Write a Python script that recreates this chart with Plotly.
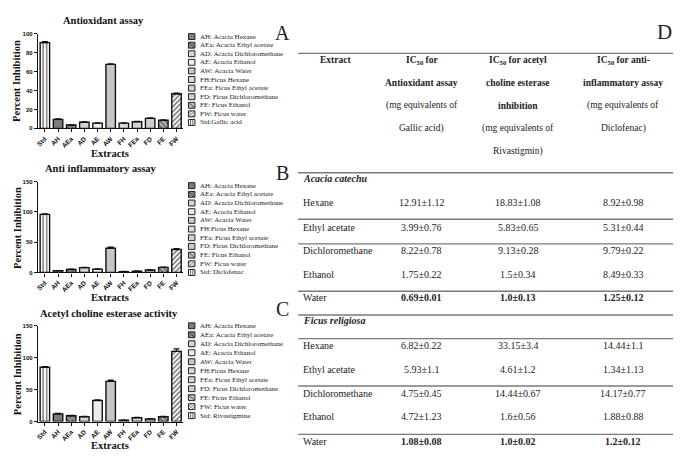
import plotly.graph_objects as go

# ---------------- data ----------------
categories = ["Std", "AH", "AEa", "AD", "AE", "AW", "FH", "FEa", "FD", "FE", "FW"]

antioxidant = [90.5, 9.5, 3.5, 6.5, 5.5, 67.5, 5.5, 7, 10.5, 8.5, 36.5]
antioxidant_err = [1.0, 0.5, 0.3, 0.4, 0.3, 0.6, 0.3, 0.3, 0.5, 0.4, 0.8]

antiinflammatory = [96, 3, 5, 8, 5.5, 40, 1.5, 2, 4, 8.5, 38]
antiinflammatory_err = [1.0, 0.3, 0.5, 0.6, 0.4, 2.0, 0.2, 0.2, 0.4, 0.6, 1.5]

acetylcholine = [85, 12, 9, 7.5, 33, 63, 2, 6, 4, 7.5, 110]
acetylcholine_err = [1.0, 1.0, 0.8, 0.5, 1.0, 2.0, 0.3, 0.5, 0.3, 0.5, 4.0]

chart_titles = ["Antioxidant assay", "Anti inflammatory assay", "Acetyl choline esterase activity"]
panel_letters = ["A", "B", "C"]
y_ticks_a = [0, 20, 40, 60, 80, 100]
y_ticks_bc = [0, 50, 100, 150]

legend_common = ["AH: Acacia Hexane", "AEa: Acacia Ethyl acetate", "AD: Acacia Dichloromethane",
                 "AE: Acacia Ethanol", "AW: Acacia Water", "FH:Ficus Hexane",
                 "FEa: Ficus Ethyl acetate", "FD: Ficus Dichloromethane", "FE: Ficus Ethanol",
                 "FW: Ficus water"]
legend_std = ["Std:Gallic acid", "Std: Diclofenac", "Std: Rivastigmine"]
legend_keys = ["AH", "AEa", "AD", "AE", "AW", "FH", "FEa", "FD", "FE", "FW", "Std"]

# table D
table_extracts = ["Hexane", "Ethyl acetate", "Dichloromethane", "Ethanol", "Water"]
species = ["Acacia catechu", "Ficus religiosa"]
acacia_antiox = ["12.91±1.12", "3.99±0.76", "8.22±0.78", "1.75±0.22", "0.69±0.01"]
acacia_ache = ["18.83±1.08", "5.83±0.65", "9.13±0.28", "1.5±0.34", "1.0±0.13"]
acacia_antiinf = ["8.92±0.98", "5.31±0.44", "9.79±0.22", "8.49±0.33", "1.25±0.12"]
ficus_antiox = ["6.82±0.22", "5.93±1.1", "4.75±0.45", "4.72±1.23", "1.08±0.08"]
ficus_ache = ["33.15±3.4", "4.61±1.2", "14.44±0.67", "1.6±0.56", "1.0±0.02"]
ficus_antiinf = ["14.44±1.1", "1.34±1.13", "14.17±0.77", "1.88±0.88", "1.2±0.12"]
header_extract = "Extract"
header_col2 = ["<b>IC<sub>50</sub> for</b>", "<b>Antioxidant assay</b>", "(mg equivalents of", "Gallic acid)"]
header_col3 = ["<b>IC<sub>50</sub> for acetyl</b>", "<b>choline esterase</b>", "<b>inhibition</b>",
               "(mg equivalents of", "Rivastigmin)"]
header_col4 = ["<b>IC<sub>50</sub> for anti-</b>", "<b>inflammatory assay</b>", "(mg equivalents of",
               "Diclofenac)"]

# ---------------- styles ----------------
W, H = 686, 467
SERIF = "Liberation Serif"
SANS = "Liberation Sans"

bar_style = {
    "Std": dict(color="white", shape="|", fg="#444444"),
    "AH": dict(color="#7c7c7c", shape="", fg=None),
    "AEa": dict(color="#a4a4a4", shape="x", fg="#333333"),
    "AD": dict(color="#d6d6d6", shape="", fg=None),
    "AE": dict(color="#ededed", shape="", fg=None),
    "AW": dict(color="#c6c6c6", shape="", fg=None),
    "FH": dict(color="#dadada", shape="", fg=None),
    "FEa": dict(color="#d2d2d2", shape="", fg=None),
    "FD": dict(color="#cdcdcd", shape="", fg=None),
    "FE": dict(color="#bdbdbd", shape="\\", fg="#333333"),
    "FW": dict(color="white", shape="/", fg="#333333"),
}


def px(x):
    return x / W


def py(y):
    return 1 - y / H


panels = [
    dict(vals=antioxidant, err=antioxidant_err, ypix=(31, 127), yrange=[0, 100], ticks=y_ticks_a,
         title_y=18, title_x=102, letter=(281, 30), xlabel_y=152, ylabel_y=79, legend_y0=34, legend_dy=8.7),
    dict(vals=antiinflammatory, err=antiinflammatory_err, ypix=(181, 273), yrange=[0, 150], ticks=y_ticks_bc,
         title_y=168, title_x=99, letter=(281, 172), xlabel_y=298, ylabel_y=228, legend_y0=185, legend_dy=8.8),
    dict(vals=acetylcholine, err=acetylcholine_err, ypix=(327, 424), yrange=[0, 150], ticks=y_ticks_bc,
         title_y=315, title_x=107, letter=(281, 310), xlabel_y=448, ylabel_y=376, legend_y0=327, legend_dy=9.1),
]

fig = go.Figure()
annotations = []
shapes = []

for i, p in enumerate(panels):
    suffix = "" if i == 0 else str(i + 1)
    for cat, v, e in zip(categories, p["vals"], p["err"]):
        st = bar_style[cat]
        marker = dict(color=st["color"], line=dict(color="#111111", width=1.4))
        if st["shape"]:
            marker["pattern"] = dict(shape=st["shape"], fgcolor=st["fg"], bgcolor=st["color"],
                                     size=3.5, solidity=0.3, fillmode="replace")
        fig.add_trace(go.Bar(
            x=[cat], y=[v], xaxis="x" + suffix, yaxis="y" + suffix, marker=marker,
            error_y=dict(type="data", array=[e], arrayminus=[0], symmetric=False,
                         thickness=1.2, width=3, color="#111111"),
            showlegend=False, hoverinfo="x+y"))

    axis_common = dict(showline=True, linecolor="#111111", linewidth=1.2, ticks="outside",
                       ticklen=3, tickwidth=1, tickcolor="#111111", showgrid=False, zeroline=False)
    fig.layout["xaxis" + suffix] = dict(
        domain=[px(36), px(182)], anchor="y" + suffix, type="category",
        categoryorder="array", categoryarray=categories, range=[-0.53, 10.53],
        tickangle=-45, tickfont=dict(family=SANS, size=6.5, color="#111111", weight="bold"),
        **axis_common)
    fig.layout["yaxis" + suffix] = dict(
        domain=[py(p["ypix"][1]), py(p["ypix"][0])], anchor="x" + suffix, range=p["yrange"],
        tickvals=p["ticks"], tickfont=dict(family=SANS, size=6, color="#111111", weight="bold"),
        **axis_common)

    # titles / labels
    annotations.append(dict(text="<b>" + chart_titles[i] + "</b>", x=px(p["title_x"]), y=py(p["title_y"]),
                            xref="paper", yref="paper", showarrow=False, xanchor="center", yanchor="middle",
                            font=dict(family=SERIF, size=10.5, color="#111111")))
    annotations.append(dict(text="<b>Extracts</b>", x=px(108), y=py(p["xlabel_y"]),
                            xref="paper", yref="paper", showarrow=False, xanchor="center", yanchor="middle",
                            font=dict(family=SERIF, size=10.5, color="#111111")))
    annotations.append(dict(text="<b>Percent Inhibition</b>", x=px(15), y=py(p["ylabel_y"]), textangle=-90,
                            xref="paper", yref="paper", showarrow=False, xanchor="center", yanchor="middle",
                            font=dict(family=SERIF, size=10.5, color="#111111")))
    annotations.append(dict(text=panel_letters[i], x=px(p["letter"][0]), y=py(p["letter"][1]),
                            xref="paper", yref="paper", showarrow=False, xanchor="center", yanchor="middle",
                            font=dict(family=SERIF, size=20, color="#222222")))

    # legend
    labels = legend_common + [legend_std[i]]
    for k, (key, lab) in enumerate(zip(legend_keys, labels)):
        yc = p["legend_y0"] + k * p["legend_dy"]
        st = bar_style[key]
        x0, x1, y0, y1 = 187, 193.5, yc - 3, yc + 3
        shapes.append(dict(type="rect", xref="paper", yref="paper", x0=px(x0), x1=px(x1),
                           y0=py(y1), y1=py(y0), fillcolor=st["color"],
                           line=dict(color="#222222", width=1)))
        if st["shape"] in ("|",):
            for xx in (189.2, 191.4):
                shapes.append(dict(type="line", xref="paper", yref="paper", x0=px(xx), x1=px(xx),
                                   y0=py(y1), y1=py(y0), line=dict(color=st["fg"], width=0.8)))
        if st["shape"] in ("/", "x"):
            shapes.append(dict(type="line", xref="paper", yref="paper", x0=px(x0), x1=px(x1),
                               y0=py(y1), y1=py(y0), line=dict(color=st["fg"], width=0.8)))
            shapes.append(dict(type="line", xref="paper", yref="paper", x0=px(x0), x1=px(x0 + 3.2),
                               y0=py(y0 + 3.2), y1=py(y0), line=dict(color=st["fg"], width=0.8)))
            shapes.append(dict(type="line", xref="paper", yref="paper", x0=px(x1 - 3.2), x1=px(x1),
                               y0=py(y1), y1=py(y1 - 3.2), line=dict(color=st["fg"], width=0.8)))
        if st["shape"] in ("\\", "x"):
            shapes.append(dict(type="line", xref="paper", yref="paper", x0=px(x0), x1=px(x1),
                               y0=py(y0), y1=py(y1), line=dict(color=st["fg"], width=0.8)))
        annotations.append(dict(text=lab, x=px(197), y=py(yc), xref="paper", yref="paper",
                                showarrow=False, xanchor="left", yanchor="middle",
                                font=dict(family=SERIF, size=7, color="#222222")))

# ---------------- table D ----------------
TX0, TX1 = 297, 673
col_x = [421, 518, 623]


def txt(text, x, y, anchor="center", size=10):
    annotations.append(dict(text=text, x=px(x), y=py(y), xref="paper", yref="paper", showarrow=False,
                            xanchor=anchor, yanchor="middle",
                            font=dict(family=SERIF, size=size, color="#222222")))


annotations.append(dict(text="D", x=px(664), y=py(29), xref="paper", yref="paper", showarrow=False,
                        xanchor="center", yanchor="middle", font=dict(family=SERIF, size=21, color="#222222")))

header_y = [58, 81, 104, 127, 150]
txt("<b>" + header_extract + "</b>", 334, header_y[0], size=9.5)
for cx, lines in zip(col_x, [header_col2, header_col3, header_col4]):
    for yy, line in zip(header_y, lines):
        txt(line, cx, yy, size=9.5)

rule_y = [51, 172, 219, 244, 292, 316, 340, 388, 437]
for ry in rule_y:
    shapes.append(dict(type="line", xref="paper", yref="paper", x0=px(TX0), x1=px(TX1),
                       y0=py(ry), y1=py(ry), line=dict(color="#7a7a7a", width=1.4)))

blocks = [
    (species[0], 178, [202, 227, 251, 275, 298], [acacia_antiox, acacia_ache, acacia_antiinf]),
    (species[1], 322, [347, 371, 396, 419, 444], [ficus_antiox, ficus_ache, ficus_antiinf]),
]
for name, hy, row_ys, cols in blocks:
    txt("<b><i>" + name + "</i></b>", 300, hy, anchor="left")
    for r, (ext, ry) in enumerate(zip(table_extracts, row_ys)):
        txt(ext, 300, ry, anchor="left")
        for cx, col in zip(col_x, cols):
            val = col[r]
            if ext == "Water":
                val = "<b>" + val + "</b>"
            txt(val, cx, ry)

fig.update_layout(
    width=W, height=H, margin=dict(l=0, r=0, t=0, b=0),
    paper_bgcolor="white", plot_bgcolor="white",
    barmode="overlay", bargap=0.28,
    annotations=annotations, shapes=shapes,
    font=dict(family=SERIF, color="#222222"),
)

fig.write_html("out.html", config={"displayModeBar": False},
               post_script="document.body.style.margin='0';")
